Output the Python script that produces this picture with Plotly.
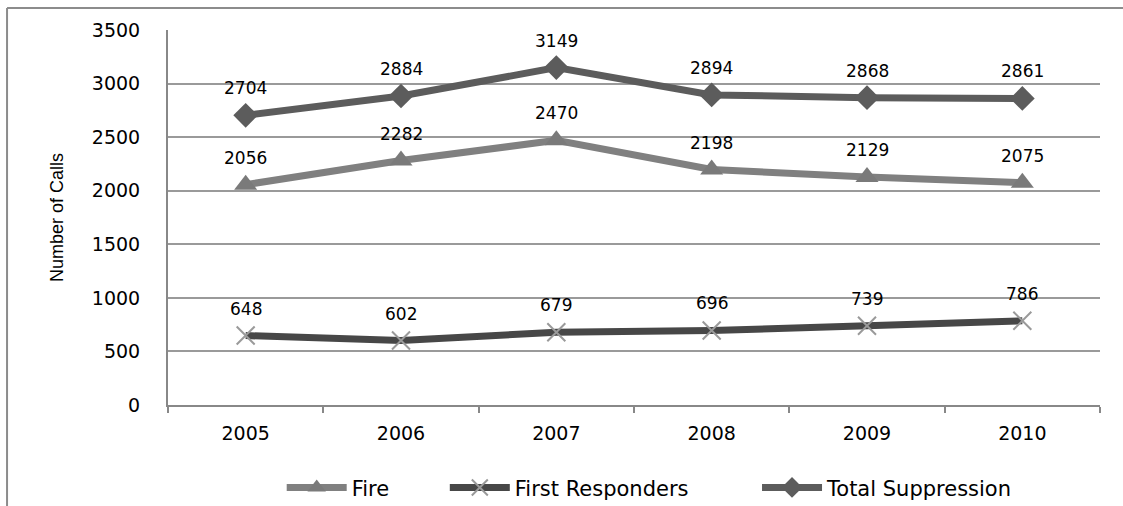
import plotly.graph_objects as go

# Calls by year
years = ["2005", "2006", "2007", "2008", "2009", "2010"]
fire = [2056, 2282, 2470, 2198, 2129, 2075]
first_responders = [648, 602, 679, 696, 739, 786]
total_suppression = [2704, 2884, 3149, 2894, 2868, 2861]

series = [
    # name, values, line colour, marker symbol, marker colour, marker size, legend id, legend x
    ("Fire", fire, "#808080", "triangle-up", "#7a7a7a", 20, "legend", 0.122),
    ("First Responders", first_responders, "#474747", "x-thin", "#9a9a9a", 18, "legend2", 0.297),
    ("Total Suppression", total_suppression, "#5c5c5c", "diamond", "#5c5c5c", 19, "legend3", 0.632),
]

fig = go.Figure()
legend_layout = {}
for name, vals, lcol, sym, mcol, msize, leg, legx in series:
    marker = dict(symbol=sym, size=msize, color=mcol)
    if sym == "x-thin":
        marker["line"] = dict(color=mcol, width=2)
    fig.add_trace(go.Scatter(
        x=years, y=vals, name=name, mode="lines+markers",
        line=dict(color=lcol, width=7),
        marker=marker, legend=leg,
    ))
    for i, yv in enumerate(vals):
        fig.add_annotation(
            x=i, y=yv, text=str(yv), showarrow=False, yshift=27,
            font=dict(family="DejaVu Sans", size=17, color="#000000"),
        )
    legend_layout[leg] = dict(
        orientation="h", x=legx, xanchor="left",
        yref="container", y=0.036, yanchor="middle",
        font=dict(family="DejaVu Sans", size=21, color="#000000"),
        itemwidth=60, bgcolor="rgba(0,0,0,0)",
    )

frame = "#8c8c8c"
# outer chart frame (top and left edges)
fig.add_shape(type="line", xref="paper", yref="paper",
              x0=-0.1727, x1=1.03, y0=1.0587, y1=1.0587,
              line=dict(color=frame, width=2))
fig.add_shape(type="line", xref="paper", yref="paper",
              x0=-0.1727, x1=-0.1727, y0=1.0587, y1=-0.32,
              line=dict(color=frame, width=2))

fig.update_layout(
    width=1123, height=506,
    margin=dict(l=168, r=23, t=30, b=101, autoexpand=False),
    paper_bgcolor="white", plot_bgcolor="white",
    showlegend=True,
    **legend_layout,
    xaxis=dict(
        type="category", range=[-0.5, 5.5], showgrid=False, showline=True,
        linecolor="#888888", linewidth=2, automargin=False,
        ticks="outside", tickson="boundaries", ticklen=6, tickwidth=2,
        tickcolor="#888888", ticklabelstandoff=10,
        tickfont=dict(family="DejaVu Sans", size=19, color="#000000"),
    ),
    yaxis=dict(
        range=[0, 3500], dtick=500, showgrid=True,
        gridcolor="#9a9a9a", gridwidth=2, automargin=False,
        showline=True, linecolor="#888888", linewidth=2,
        ticks="", ticklabelstandoff=22,
        tickfont=dict(family="DejaVu Sans", size=19, color="#000000"),
        zeroline=False,
        title=dict(text="Number of Calls",
                   font=dict(family="Liberation Sans, Arial", size=18, color="#000000"),
                   standoff=24),
    ),
)

fig.write_html("out.html")
